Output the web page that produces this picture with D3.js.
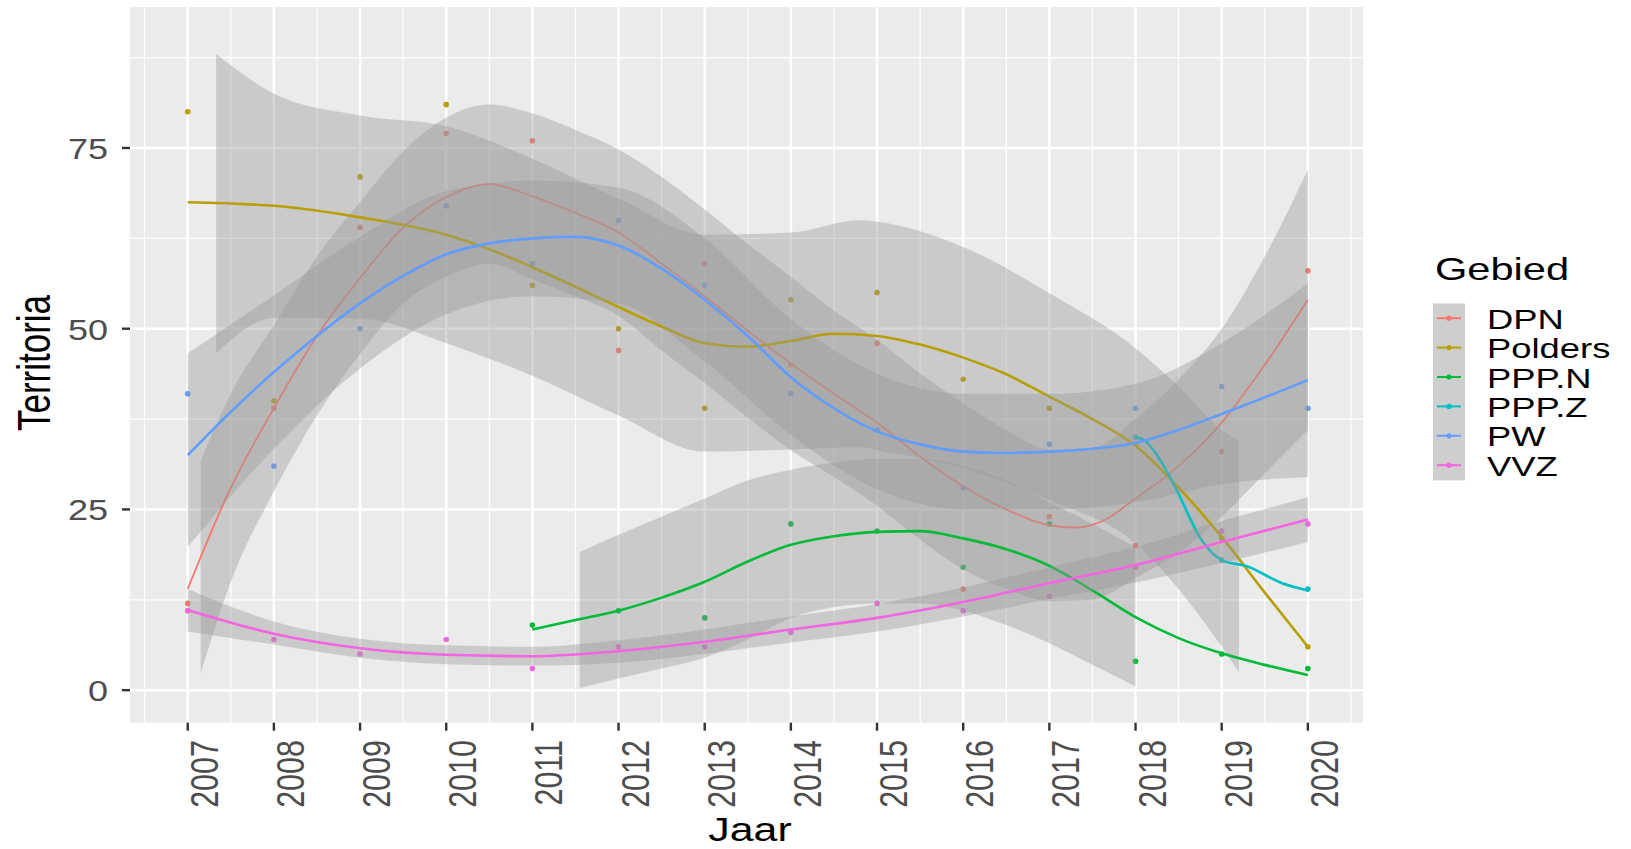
<!DOCTYPE html>
<html>
<head>
<meta charset="utf-8">
<script src="https://cdn.jsdelivr.net/npm/d3@7"></script>
<style>
  body { margin: 0; background: #fff; }
  text { font-family: "Liberation Sans", Arial, sans-serif; }
</style>
</head>
<body>
<div id="chart"></div>
<script>
// data
const years = [2007, 2008, 2009, 2010, 2011, 2012, 2013, 2014, 2015, 2016, 2017, 2018, 2019, 2020];
const groups = ["DPN", "Polders", "PPP.N", "PPP.Z", "PW", "VVZ"];
const groupColors = ["#F8766D", "#B79F00", "#00BA38", "#00BFC4", "#619CFF", "#F564E3"];
const yTicks = [0, 25, 50, 75];

// observed territories per year (null = no count)
const dpnObs = [12, 39, 64, 77, 76, 47, 59, 45, 48, 14, 24, 20, 33, 58];
const poldersObs = [80, 40, 71, 81, 56, 50, 39, 54, 55, 43, 39, 34, 21, 6];
const pppnObs = [null, null, null, null, 9, 11, 10, 23, 22, 17, 23, 4, 5, 3];
const pppzObs = [null, null, null, null, null, null, null, null, null, null, null, 35, 18, 14];
const pwObs = [41, 31, 50, 67, 59, 65, 56, 41, 36, 28, 34, 39, 42, 39];
const vvzObs = [11, 7, 5, 7, 3, 6, 6, 8, 12, 11, 13, 17, 22, 23];

// smoothed lines (read at these x positions)
const dpnFitX = [2007, 2007.5, 2008, 2008.5, 2009, 2009.5, 2010, 2010.5, 2011, 2011.5, 2012, 2012.5, 2013, 2013.5, 2014, 2014.5, 2015, 2015.5, 2016, 2016.5, 2017, 2017.3, 2017.6, 2018, 2018.5, 2019, 2019.5, 2020];
const dpnFit = [14, 28, 39, 49, 57, 64, 68.2, 70, 68.3, 66, 63.3, 59, 54.5, 49.7, 45.2, 41, 37, 32.3, 28.2, 25, 22.8, 22.5, 23.3, 26.5, 31, 37, 45, 54];
const poldersFitX = [2007, 2008, 2009, 2010, 2010.5, 2011, 2011.5, 2012, 2012.5, 2013, 2013.5, 2014, 2014.5, 2015, 2015.5, 2016, 2016.5, 2017, 2017.5, 2018, 2018.5, 2019, 2019.5, 2020];
const poldersFit = [67.5, 67, 65.4, 63, 61, 58.5, 55.8, 53, 50.3, 48, 47.5, 48.3, 49.3, 49, 47.8, 46, 43.7, 40.6, 37.5, 33.8, 28, 21.2, 13.5, 6];
const pppnFitX = [2011, 2011.5, 2012, 2012.5, 2013, 2013.5, 2014, 2014.5, 2015, 2015.5, 2016, 2016.5, 2017, 2017.5, 2018, 2018.5, 2019, 2019.5, 2020];
const pppnFit = [8.4, 9.7, 11, 12.8, 15, 17.8, 20.1, 21.3, 21.9, 22, 21, 19.5, 17.2, 13.8, 10.1, 7.2, 5.1, 3.5, 2.1];
const pppzFitX = [2018, 2018.1, 2018.25, 2018.46, 2018.77, 2019, 2019.3, 2019.7, 2020];
const pppzFit = [35, 34.6, 32.5, 28.1, 20.7, 18, 17.1, 14.8, 13.8];
const pwFitX = [2007, 2007.5, 2008, 2008.5, 2009, 2009.5, 2010, 2010.5, 2011, 2011.5, 2012, 2012.5, 2013, 2013.5, 2014, 2014.5, 2015, 2015.5, 2016, 2016.5, 2017, 2017.5, 2018, 2018.5, 2019, 2019.5, 2020];
const pwFit = [32.5, 38.5, 44, 49, 53.5, 57.3, 60.3, 61.8, 62.5, 62.7, 61.5, 58.3, 54, 49, 43.3, 39, 35.8, 34, 33, 32.8, 33, 33.4, 34.2, 36, 38.2, 40.5, 42.9];
const vvzFitX = years;
const vvzFit = [11.1, 7.8, 5.8, 4.9, 4.7, 5.4, 6.7, 8.4, 10, 12.2, 14.8, 17.3, 20.5, 23.6];

// confidence bands (only the part inside 0..90 is shown)
const dpnBandX = [2007.15, 2007.5, 2008, 2008.5, 2009, 2009.5, 2010, 2010.5, 2011, 2011.5, 2012, 2012.5, 2013, 2013.5, 2014, 2014.5, 2015, 2015.5, 2016, 2016.5, 2017, 2017.5, 2018, 2018.5, 2019, 2019.5, 2020];
const dpnLow = [2.3, 15, 27.5, 38, 46.5, 53.5, 57.2, 59, 56.8, 54.5, 51.8, 47, 42.5, 37.7, 33.2, 29.5, 25.5, 20.8, 16.7, 14, 12.3, 12.5, 15.5, 19, 24, 30, 36];
const dpnHigh = [31.7, 41, 50.5, 60, 67.5, 74.5, 79.2, 81, 79.8, 77.5, 74.8, 71, 66.5, 61.7, 57.2, 52.5, 48.5, 43.8, 39.7, 36, 33.3, 33.5, 37.5, 43, 50, 60, 72];
const poldersBandX = [2007.33, 2008, 2009, 2010, 2011, 2012, 2013, 2014, 2014.8, 2015, 2016, 2017, 2018, 2018.5, 2019, 2019.2];
const poldersLow = [46.6, 51.5, 51.4, 48, 43.5, 38, 33, 33.3, 33.6, 33.2, 30.7, 26.3, 20.3, 14, 6, 2.5];
const poldersHigh = [88, 82.5, 79.5, 78, 73.5, 68, 63, 63.3, 65, 64.8, 61.3, 54.9, 47.3, 42, 36, 34.5];
const pppnBandX = [2011.55, 2012, 2012.5, 2013, 2013.5, 2014, 2014.5, 2015, 2015.5, 2016, 2016.5, 2017, 2017.5, 2018];
const pppnLow = [0.3, 1.6, 3, 4.5, 7, 10, 11.5, 12, 12, 11, 9, 6.5, 3.5, 0.5];
const pppnHigh = [19.1, 21.5, 24, 26.5, 29, 30.5, 31.5, 32, 32, 31, 29, 26, 23, 19.8];
const pwBandX = years;
const pwLow = [19.8, 33.4, 44.5, 52, 54.5, 53.5, 45.5, 35.3, 27.8, 25, 25, 26, 28.5, 29.5];
const pwHigh = [46.6, 54.6, 62.7, 69, 70.5, 69.5, 62.5, 51.3, 43.8, 41, 41, 42.4, 48, 56.3];
const vvzBandX = years;
const vvzLow = [8.1, 6.3, 4.5, 3.6, 3.4, 3.8, 5, 6.6, 8.1, 10.2, 12.6, 14.9, 17.6, 20.5];
const vvzHigh = [14, 9.5, 7.1, 6.2, 6, 6.9, 8.4, 10.2, 11.9, 14.2, 17, 19.8, 23.4, 26.7];

// tie the arrays to the groups
const obsList = [dpnObs, poldersObs, pppnObs, pppzObs, pwObs, vvzObs];
const fitList = [[dpnFitX, dpnFit], [poldersFitX, poldersFit], [pppnFitX, pppnFit], [pppzFitX, pppzFit], [pwFitX, pwFit], [vvzFitX, vvzFit]];
const bandList = [[dpnBandX, dpnLow, dpnHigh], [poldersBandX, poldersLow, poldersHigh], [pppnBandX, pppnLow, pppnHigh], null, [pwBandX, pwLow, pwHigh], [vvzBandX, vvzLow, vvzHigh]];

let width = 1631;
let height = 849;
let panel = { left: 130, right: 1363, top: 7, bottom: 722.7 };

let svg = d3.select("#chart")
    .append("svg")
    .attr("width", width)
    .attr("height", height);

let x = d3.scaleLinear().domain([2006.33, 2020.64]).range([panel.left, panel.right]);
let y = d3.scaleLinear().domain([-4.5, 94.5]).range([panel.bottom, panel.top]);

// the picture is stretched sideways, so text is too
const SX = 1.3;

// panel background + grid
svg.append("rect")
    .attr("x", panel.left).attr("y", panel.top)
    .attr("width", panel.right - panel.left)
    .attr("height", panel.bottom - panel.top)
    .attr("fill", "#EBEBEB");

let grid = svg.append("g");
let minorY = [12.5, 37.5, 62.5, 87.5];
let minorX = d3.range(2006.5, 2021, 1);
grid.selectAll(".mny").data(minorY).enter().append("line")
    .attr("x1", panel.left).attr("x2", panel.right)
    .attr("y1", d => y(d)).attr("y2", d => y(d))
    .attr("stroke", "#fff").attr("stroke-width", 1.2);
grid.selectAll(".mnx").data(minorX).enter().append("line")
    .attr("y1", panel.top).attr("y2", panel.bottom)
    .attr("x1", d => x(d)).attr("x2", d => x(d))
    .attr("stroke", "#fff").attr("stroke-width", 1.2);
grid.selectAll(".mjy").data(yTicks).enter().append("line")
    .attr("x1", panel.left).attr("x2", panel.right)
    .attr("y1", d => y(d)).attr("y2", d => y(d))
    .attr("stroke", "#fff").attr("stroke-width", 2.5);
grid.selectAll(".mjx").data(years).enter().append("line")
    .attr("y1", panel.top).attr("y2", panel.bottom)
    .attr("x1", d => x(d)).attr("x2", d => x(d))
    .attr("stroke", "#fff").attr("stroke-width", 2.5);

// points first, smooths on top
let pts = [];
obsList.forEach(function (arr, gi) {
    arr.forEach(function (v, i) {
        if (v !== null) pts.push({ g: gi, yr: years[i], v: v });
    });
});
svg.append("g").selectAll("circle")
    .data(pts)
    .enter()
    .append("circle")
    .attr("cx", d => x(d.yr))
    .attr("cy", d => y(d.v))
    .attr("r", 2.8)
    .attr("fill", d => groupColors[d.g]);

let area = d3.area()
    .x(d => x(d[0]))
    .y0(d => y(d[1]))
    .y1(d => y(d[2]))
    .curve(d3.curveMonotoneX);
let line = d3.line()
    .x(d => x(d[0]))
    .y(d => y(d[1]))
    .curve(d3.curveMonotoneX);

let smooth = svg.append("g");
groups.forEach(function (name, gi) {
    let band = bandList[gi];
    if (band) {
        let rows = band[0].map((bx, i) => [bx, band[1][i], band[2][i]]);
        smooth.append("path")
            .attr("d", area(rows))
            .attr("fill", "#999999")
            .attr("fill-opacity", 0.4);
    }
    let fit = fitList[gi];
    let rows = fit[0].map((fx, i) => [fx, fit[1][i]]);
    smooth.append("path")
        .attr("d", line(rows))
        .attr("fill", "none")
        .attr("stroke", groupColors[gi])
        .attr("stroke-width", gi === 0 ? 1.8 : 2.6);
});

// axes
let axisG = svg.append("g");
axisG.selectAll(".yt").data(yTicks).enter().append("line")
    .attr("x1", panel.left - 8).attr("x2", panel.left)
    .attr("y1", d => y(d)).attr("y2", d => y(d))
    .attr("stroke", "#333").attr("stroke-width", 2.4);
axisG.selectAll(".ytl").data(yTicks).enter().append("text")
    .attr("transform", d => `translate(108,${y(d)}) scale(1.2,1)`)
    .attr("dy", "0.36em")
    .attr("text-anchor", "end")
    .attr("font-size", 30)
    .attr("fill", "#4D4D4D")
    .text(d => d);
axisG.selectAll(".xt").data(years).enter().append("line")
    .attr("y1", panel.bottom).attr("y2", panel.bottom + 8)
    .attr("x1", d => x(d)).attr("x2", d => x(d))
    .attr("stroke", "#333").attr("stroke-width", 2.4);
axisG.selectAll(".xtl").data(years).enter().append("text")
    .attr("transform", d => `translate(${x(d) + 30},740) scale(1.25,1) rotate(-90)`)
    .attr("text-anchor", "end")
    .attr("font-size", 30.5)
    .attr("fill", "#4D4D4D")
    .text(d => d);

// axis titles
svg.append("text")
    .attr("transform", `translate(750,841) scale(${SX},1)`)
    .attr("text-anchor", "middle")
    .attr("font-size", 33)
    .attr("fill", "#000")
    .text("Jaar");
svg.append("text")
    .attr("transform", `translate(50,363) scale(${SX},1) rotate(-90)`)
    .attr("text-anchor", "middle")
    .attr("font-size", 35)
    .attr("fill", "#000")
    .text("Territoria");

// legend
let legend = svg.append("g");
let keyTop = 303.5, keyH = 29.4, keyX = 1433, keyW = 32;
legend.append("text")
    .attr("transform", `translate(1435,280) scale(${SX},1)`)
    .attr("font-size", 32)
    .attr("fill", "#000")
    .text("Gebied");
legend.selectAll(".kb").data(groups).enter().append("rect")
    .attr("x", keyX)
    .attr("y", (d, i) => keyTop + i * keyH)
    .attr("width", keyW)
    .attr("height", keyH + 0.5)
    .attr("fill", "#CECECE");
legend.selectAll(".kl").data(groups).enter().append("line")
    .attr("x1", keyX + 4).attr("x2", keyX + keyW - 4)
    .attr("y1", (d, i) => keyTop + i * keyH + keyH / 2)
    .attr("y2", (d, i) => keyTop + i * keyH + keyH / 2)
    .attr("stroke", (d, i) => groupColors[i])
    .attr("stroke-width", 2);
legend.selectAll(".kp").data(groups).enter().append("circle")
    .attr("cx", keyX + keyW / 2)
    .attr("cy", (d, i) => keyTop + i * keyH + keyH / 2)
    .attr("r", 2.6)
    .attr("fill", (d, i) => groupColors[i]);
legend.selectAll(".kt").data(groups).enter().append("text")
    .attr("transform", (d, i) => `translate(1487,${keyTop + i * keyH + keyH / 2 + 10.5}) scale(1.3,1)`)
    .attr("font-size", 28)
    .attr("fill", "#000")
    .text(d => d);
</script>
</body>
</html>
